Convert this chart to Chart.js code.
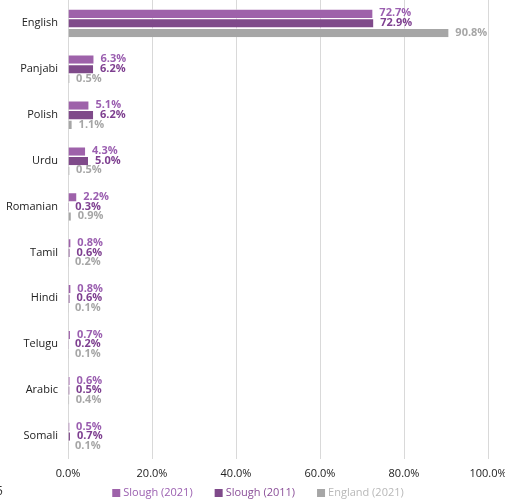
<!DOCTYPE html>
<html><head><meta charset="utf-8">
<script src="https://cdn.jsdelivr.net/npm/chart.js@4"></script>
<style>
html,body{margin:0;padding:0;background:#fff;}
#wrap{position:relative;width:505px;height:502px;}
#pg{position:absolute;left:-4px;top:482px;font:12px "Open Sans",sans-serif;color:#333;}
</style></head>
<body><div id="wrap"><canvas id="c" width="505" height="502"></canvas><div id="pg">5</div></div>
<script>
const categories = ["English","Panjabi","Polish","Urdu","Romanian","Tamil","Hindi","Telugu","Arabic","Somali"];
const slough2021 = [72.7,6.3,5.1,4.3,2.2,0.8,0.8,0.7,0.6,0.5];
const slough2011 = [72.9,6.2,6.2,5.0,0.3,0.6,0.6,0.2,0.5,0.7];
const england2021 = [90.8,0.5,1.1,0.5,0.9,0.2,0.1,0.1,0.4,0.1];
const seriesNames = ["Slough (2021)","Slough (2011)","England (2021)"];
const xTicks = [0,20,40,60,80,100];

const barColors = ["#9e62aa","#7f4a8a","#a6a6a6"];
const labelColors = ["#9b5fb0","#7e3f90","#a6a6a6"];
const legendTextColors = ["#9b5fb0","#8a4e98","#b8b8b8"];
const FONT = '"Open Sans", "Noto Sans", sans-serif';

const labelPlugin = {
  id:'barLabels',
  afterDatasetsDraw(chart){
    const ctx = chart.ctx;
    ctx.save();
    ctx.font = 'bold 11px ' + FONT;
    ctx.textBaseline = 'middle';
    ctx.textAlign = 'left';
    chart.data.datasets.forEach((ds,i)=>{
      const meta = chart.getDatasetMeta(i);
      meta.data.forEach((bar,j)=>{
        ctx.fillStyle = labelColors[i];
        ctx.fillText(ds.data[j].toFixed(1)+'%', bar.x+6, bar.y);
      });
    });
    ctx.restore();
  }
};

const legendPlugin = {
  id:'customLegend',
  afterDraw(chart){
    const ctx = chart.ctx;
    ctx.save();
    ctx.font = '11px ' + FONT;
    ctx.textBaseline = 'middle';
    ctx.textAlign = 'left';
    const box = 8, gapBox = 3, gapItem = 22;
    const widths = seriesNames.map(n => box + gapBox + ctx.measureText(n).width);
    const total = widths.reduce((a,b)=>a+b,0) + gapItem*(widths.length-1);
    let x = 258 - total/2;
    const y = chart.height - 9;
    seriesNames.forEach((n,i)=>{
      ctx.fillStyle = barColors[i];
      ctx.fillRect(x, y-4, box, box);
      ctx.fillStyle = legendTextColors[i];
      ctx.fillText(n, x+box+gapBox, y);
      x += widths[i] + gapItem;
    });
    ctx.restore();
  }
};

new Chart(document.getElementById('c'),{
  type:'bar',
  data:{
    labels:categories,
    datasets:[slough2021,slough2011,england2021].map((d,i)=>({
      label:seriesNames[i], data:d, backgroundColor:barColors[i],
      borderColor:'rgba(255,255,255,0.5)', borderWidth:{top:1,right:1,bottom:0,left:0},
      categoryPercentage:0.63, barPercentage:0.96, minBarLength:1
    }))
  },
  options:{
    indexAxis:'y',
    responsive:false,
    animation:false,
    layout:{padding:{left:0,right:0,top:0,bottom:9}},
    scales:{
      x:{
        min:0,max:100,
        afterBuildTicks(s){ s.ticks = xTicks.map(v=>({value:v})); },
        afterFit(s){ s.paddingRight = 17; s.paddingLeft = 0; s.height = 34; },
        ticks:{callback:v=>v.toFixed(1)+'%', color:'#222', font:{family:FONT,size:11}, padding:8, maxRotation:0},
        grid:{color:'#d9d9d9', drawTicks:false, lineWidth:1},
        border:{display:false}
      },
      y:{
        afterFit(s){ s.width = 68; s.paddingTop = 0; s.paddingBottom = 0; },
        ticks:{color:'#222', font:{family:FONT,size:11}, padding:10},
        grid:{display:false, drawTicks:false},
        border:{display:false}
      }
    },
    plugins:{
      legend:{display:false},
      tooltip:{enabled:false}
    }
  },
  plugins:[labelPlugin, legendPlugin]
});
</script>
</body></html>
